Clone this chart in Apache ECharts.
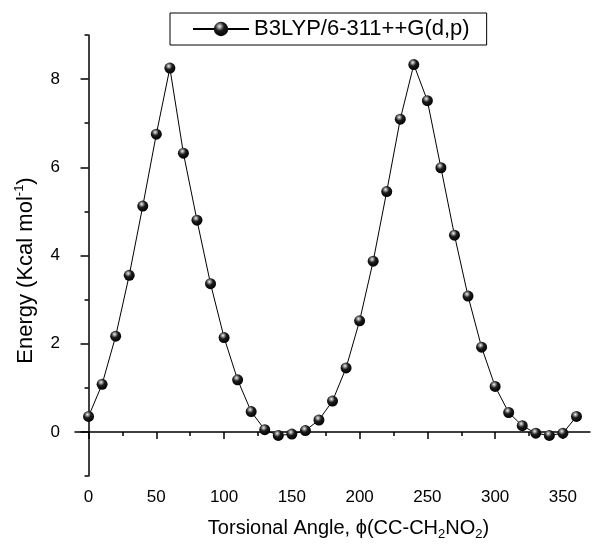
<!DOCTYPE html>
<html>
<head>
<meta charset="utf-8">
<title>Torsional energy scan</title>
<script src="https://cdn.jsdelivr.net/npm/echarts@6/dist/echarts.min.js"></script>
<style>
  html, body { margin: 0; padding: 0; background: #fff; }
  #chart { width: 594px; height: 550px; }
</style>
</head>
<body>
<div id="chart"></div>
<script>
// Scan angles (degrees) and relative energies (kcal/mol)
const angles = [0, 10, 20, 30, 40, 50, 60, 70, 80, 90, 100, 110, 120, 130, 140, 150, 160, 170, 180,
  190, 200, 210, 220, 230, 240, 250, 260, 270, 280, 290, 300, 310, 320, 330, 340, 350, 360];
const energies = [0.35, 1.08, 2.17, 3.55, 5.12, 6.75, 8.25, 6.32, 4.80, 3.36, 2.14, 1.18, 0.46, 0.05,
  -0.08, -0.05, 0.03, 0.27, 0.70, 1.45, 2.52, 3.87, 5.45, 7.09, 8.33, 7.51, 5.99, 4.46, 3.08,
  1.92, 1.03, 0.44, 0.14, -0.03, -0.08, -0.03, 0.35];

const xMajorTicks = [0, 50, 100, 150, 200, 250, 300, 350];
const xMinorTicks = [25, 75, 125, 175, 225, 275, 325];
const yMajorTicks = [0, 2, 4, 6, 8];
const yMinorTicks = [-1, 1, 3, 5, 7, 9];

const seriesName = 'B3LYP/6-311++G(d,p)';

const FONT = 'Liberation Sans, Arial, sans-serif';

// shaded ball marker
const sphere = {
  type: 'radial', x: 0.4, y: 0.32, r: 0.7,
  colorStops: [
    { offset: 0, color: '#f4f4f4' },
    { offset: 0.18, color: '#9a9a9a' },
    { offset: 0.45, color: '#1c1c1c' },
    { offset: 1, color: '#000000' }
  ]
};

const chart = echarts.init(document.getElementById('chart'), null, { renderer: 'canvas' });

const axisLine = { show: true, lineStyle: { color: '#000', width: 1.5 } };

chart.setOption({
  animation: false,
  backgroundColor: '#fff',
  grid: { left: 75, right: 4, top: 35, bottom: 74, containLabel: false },
  legend: {
    left: 170,
    top: 13,
    padding: [5, 17, 5, 22],
    borderColor: '#000',
    borderWidth: 1,
    itemWidth: 56,
    itemHeight: 18,
    textStyle: { fontFamily: FONT, fontSize: 22, color: '#000' },
    data: [seriesName]
  },
  xAxis: [
    {
      type: 'value', position: 'bottom', min: -10, max: 370,
      axisLine: axisLine,
      splitLine: { show: false },
      axisTick: { show: true, inside: false, length: 7, customValues: xMajorTicks,
        lineStyle: { color: '#000', width: 1.5 } },
      axisLabel: { show: true, customValues: xMajorTicks, margin: 13,
        fontFamily: FONT, fontSize: 17, color: '#000' },
      name: 'Torsional Angle, ϕ(CC-CH{sub|2}NO{sub|2})',
      nameLocation: 'middle',
      nameGap: 39,
      nameTextStyle: {
        fontFamily: FONT, fontSize: 20, color: '#000', lineHeight: 26,
        padding: [0, 0, 0, 32],
        rich: {
          sub: { fontFamily: FONT, fontSize: 13, color: '#000', lineHeight: 13, verticalAlign: 'bottom' }
        }
      }
    },
    {
      type: 'value', position: 'bottom', min: -10, max: 370,
      axisLine: { show: false },
      splitLine: { show: false },
      axisTick: { show: true, inside: false, length: 4, customValues: xMinorTicks,
        lineStyle: { color: '#000', width: 1.5 } },
      axisLabel: { show: false }
    }
  ],
  yAxis: [
    {
      type: 'value', position: 'left', min: -1, max: 9,
      axisLine: axisLine,
      splitLine: { show: false },
      axisTick: { show: true, inside: false, length: 8, customValues: yMajorTicks,
        lineStyle: { color: '#000', width: 1.5 } },
      axisLabel: { show: true, customValues: yMajorTicks, margin: 15,
        fontFamily: FONT, fontSize: 17, color: '#000' },
      name: 'Energy (Kcal mol{sup|-1})',
      nameLocation: 'middle',
      nameRotate: 90,
      nameGap: 36,
      nameTextStyle: {
        fontFamily: FONT, fontSize: 22, color: '#000', lineHeight: 26,
        padding: [0, 30, 0, 0],
        rich: {
          sup: { fontFamily: FONT, fontSize: 13, color: '#000', lineHeight: 13, verticalAlign: 'top' }
        }
      }
    },
    {
      type: 'value', position: 'left', min: -1, max: 9,
      axisLine: { show: false },
      splitLine: { show: false },
      axisTick: { show: true, inside: false, length: 4, customValues: yMinorTicks,
        lineStyle: { color: '#000', width: 1.5 } },
      axisLabel: { show: false }
    }
  ],
  series: [
    {
      name: seriesName,
      type: 'line',
      xAxisIndex: 0,
      yAxisIndex: 0,
      data: angles.map((a, i) => [a, energies[i]]),
      symbol: 'circle',
      symbolSize: 11,
      showAllSymbol: true,
      lineStyle: { color: '#000', width: 1 },
      itemStyle: { color: sphere, borderWidth: 0 },
      z: 3
    }
  ]
});
</script>
</body>
</html>
